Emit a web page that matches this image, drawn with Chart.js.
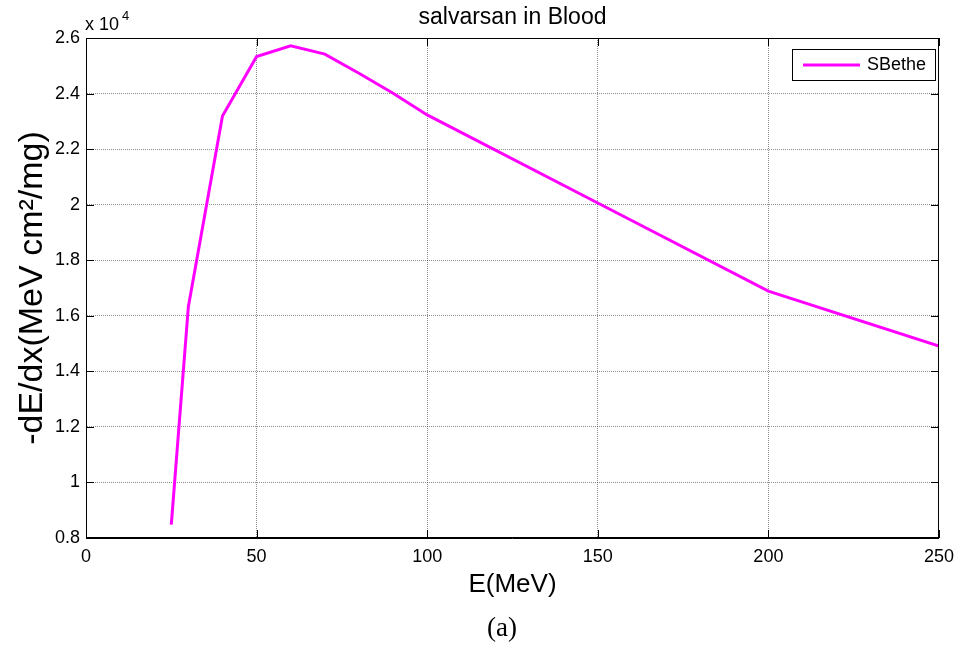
<!DOCTYPE html>
<html>
<head>
<meta charset="utf-8">
<script src="https://cdn.jsdelivr.net/npm/chart.js@4"></script>
<style>
  body { margin: 0; background: #fff; }
</style>
</head>
<body>
<canvas id="myChart" width="962" height="650"></canvas>
<script>
var energy = [25, 30, 40, 50, 60, 70, 80, 90, 100, 150, 200, 250];
var sBethe = [8480, 16330, 23190, 25330, 25720, 25420, 24730, 24010, 23230, 20060, 16890, 14910];
var xTicks = [0, 50, 100, 150, 200, 250];
var yTicks = [8000, 10000, 12000, 14000, 16000, 18000, 20000, 22000, 24000, 26000];
var yTickLabels = ['0.8', '1', '1.2', '1.4', '1.6', '1.8', '2', '2.2', '2.4', '2.6'];

var fontName = '"Liberation Sans", Arial, sans-serif';
var ctx1 = document.getElementById("myChart");

// matlab style: box, inward ticks, title, legend box, scale note
const matlabLook = {
  id: 'matlabLook',
  afterDraw(chart) {
    const c = chart.ctx;
    const a = chart.chartArea;
    const xs = chart.scales.x;
    const ys = chart.scales.y;
    c.save();
    c.strokeStyle = '#000';
    c.lineWidth = 1;
    c.strokeRect(a.left + 0.5, a.top + 0.5, a.right - a.left - 1, a.bottom - a.top - 1);

    c.beginPath();
    xTicks.forEach(function (v) {
      var px = Math.round(xs.getPixelForValue(v)) + 0.5;
      c.moveTo(px, a.bottom); c.lineTo(px, a.bottom - 8);
      c.moveTo(px, a.top); c.lineTo(px, a.top + 8);
    });
    yTicks.forEach(function (v) {
      var py = Math.round(ys.getPixelForValue(v)) + 0.5;
      c.moveTo(a.left, py); c.lineTo(a.left + 8, py);
      c.moveTo(a.right, py); c.lineTo(a.right - 8, py);
    });
    c.stroke();

    // title
    c.fillStyle = '#000';
    c.textAlign = 'center';
    c.textBaseline = 'alphabetic';
    c.font = '23px ' + fontName;
    c.fillText('salvarsan in Blood', (a.left + a.right) / 2, 24);

    // x 10^4
    c.textAlign = 'left';
    c.font = '18px ' + fontName;
    c.fillText('x 10', a.left - 1, 30);
    c.font = '13px ' + fontName;
    c.fillText('4', a.left + 36, 20);

    // (a)
    c.textAlign = 'center';
    c.font = '27px "Liberation Serif", "Times New Roman", serif';
    c.fillText('(a)', 502, 636);

    // legend
    var ds = chart.data.datasets[0];
    c.fillStyle = '#fff';
    c.fillRect(792, 49, 144, 32);
    c.strokeStyle = '#000';
    c.lineWidth = 1;
    c.strokeRect(792.5, 49.5, 143, 31);
    c.strokeStyle = ds.borderColor;
    c.lineWidth = 3;
    c.beginPath();
    c.moveTo(803, 65); c.lineTo(860, 65);
    c.stroke();
    c.fillStyle = '#000';
    c.textAlign = 'left';
    c.textBaseline = 'middle';
    c.font = '18px ' + fontName;
    c.fillText(ds.label, 867, 65);
    c.restore();
  }
};

const datachart = {
  datasets: [{
    label: 'SBethe',
    data: energy.map(function (e, i) { return { x: e, y: sBethe[i] }; }),
    borderColor: 'rgb(255, 0, 255)',
    borderWidth: 3,
    pointRadius: 0,
    showLine: true,
    fill: false,
    tension: 0
  }]
};

const config = {
  type: 'scatter',
  data: datachart,
  options: {
    responsive: false,
    animation: false,
    layout: { padding: { left: 0, top: 38, right: 19, bottom: 0 } },
    plugins: {
      legend: { display: false },
      title: { display: false },
      tooltip: { enabled: false }
    },
    scales: {
      x: {
        type: 'linear',
        min: 0,
        max: 250,
        afterFit: function (scale) { scale.height = 112; },
        afterBuildTicks: function (scale) {
          scale.ticks = xTicks.map(function (v) { return { value: v }; });
        },
        ticks: {
          color: '#000',
          padding: 8,
          font: { family: fontName, size: 18 },
          maxRotation: 0
        },
        grid: {
          color: 'rgba(0,0,0,0.45)',
          drawTicks: false
        },
        border: { color: '#000', width: 1, dash: [1, 1] },
        title: {
          display: true,
          text: 'E(MeV)',
          color: '#000',
          font: { family: fontName, size: 26 },
          padding: { top: 0, bottom: 50 }
        }
      },
      y: {
        type: 'linear',
        min: 8000,
        max: 26000,
        afterFit: function (scale) { scale.width = 86; },
        afterBuildTicks: function (scale) {
          scale.ticks = yTicks.map(function (v) { return { value: v }; });
        },
        ticks: {
          color: '#000',
          padding: 6,
          font: { family: fontName, size: 18 },
          callback: function (v) { return yTickLabels[yTicks.indexOf(v)]; }
        },
        grid: {
          color: 'rgba(0,0,0,0.45)',
          drawTicks: false
        },
        border: { color: '#000', width: 1, dash: [1, 1] },
        title: {
          display: true,
          text: '-dE/dx(MeV cm²/mg)',
          color: '#000',
          font: { family: fontName, size: 34 },
          padding: { top: 12, bottom: 0 }
        }
      }
    }
  },
  plugins: [matlabLook]
};
const myChart = new Chart(ctx1, config);
</script>
</body>
</html>
